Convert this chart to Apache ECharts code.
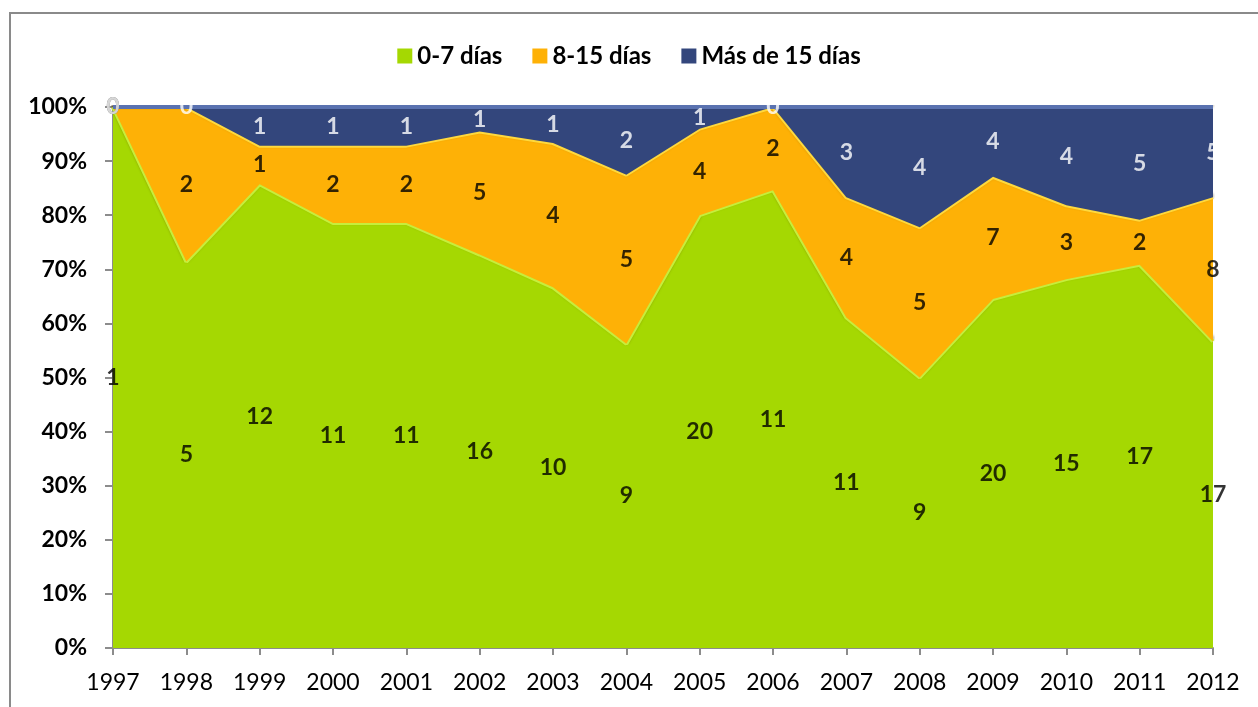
<!DOCTYPE html>
<html>
<head>
<meta charset="utf-8">
<script src="https://cdn.jsdelivr.net/npm/echarts@6/dist/echarts.min.js"></script>
<style>
  html, body { margin: 0; padding: 0; background: #fff; }
  #chart { width: 1258px; height: 707px; }
</style>
</head>
<body>
<div id="chart"></div>
<script>
// datos: número de casos por año y por tramo de días
const years = ['1997', '1998', '1999', '2000', '2001', '2002', '2003', '2004', '2005', '2006', '2007', '2008', '2009', '2010', '2011', '2012'];
const dias0a7 = [1, 5, 12, 11, 11, 16, 10, 9, 20, 11, 11, 9, 20, 15, 17, 17];
const dias8a15 = [0, 2, 1, 2, 2, 5, 4, 5, 4, 2, 4, 5, 7, 3, 2, 8];
const mas15 = [0, 0, 1, 1, 1, 1, 1, 2, 1, 0, 3, 4, 4, 4, 5, 5];
const seriesNames = ['0-7 días', '8-15 días', 'Más de 15 días'];

const font = 'Lato, "Open Sans", sans-serif';
const raw = [dias0a7, dias8a15, mas15];
const totals = years.map((y, i) => dias0a7[i] + dias8a15[i] + mas15[i]);
const pct = raw.map(arr => arr.map((v, i) => v / totals[i] * 100));

const colors = ['#a5d802', '#feb106', '#33467c'];
const edges = ['#c6ee3c', '#ffd93d', '#5a72b0'];
const labelColors = ['#000', '#000', '#fff'];

// label positions = middle of each band
function midPoints(k) {
  return years.map((y, i) => {
    let base = 0;
    for (let j = 0; j < k; j++) base += pct[j][i];
    return [i, base + pct[k][i] / 2];
  });
}

const series = [];
raw.forEach((arr, k) => {
  series.push({
    name: seriesNames[k],
    type: 'line',
    stack: 'total',
    data: pct[k],
    symbol: 'none',
    z: 2 + k,
    lineStyle: { color: edges[k], width: 4, shadowColor: 'rgba(70,45,0,0.6)', shadowBlur: 3, shadowOffsetY: -2 },
    itemStyle: { color: colors[k] },
    areaStyle: { color: colors[k], opacity: 1 }
  });
});
raw.forEach((arr, k) => {
  series.push({
    name: 'lbl' + k,
    type: 'scatter',
    data: midPoints(k),
    symbolSize: 0,
    z: 10 + k,
    silent: true,
    label: {
      show: true,
      position: 'inside',
      formatter: p => String(arr[p.dataIndex]),
      color: labelColors[k],
      fontFamily: font,
      fontWeight: 'bold',
      fontSize: 23
    }
  });
});

const chart = echarts.init(document.getElementById('chart'));
chart.setOption({
  animation: false,
  backgroundColor: '#fff',
  graphic: [{
    type: 'rect',
    shape: { x: 10, y: 13, width: 1400, height: 900 },
    style: { fill: 'none', stroke: '#8a8a8a', lineWidth: 2 },
    silent: true
  }],
  legend: {
    data: seriesNames.map((n, k) => ({ name: n, itemStyle: { color: colors[k] } })),
    top: 39,
    left: 'center',
    icon: 'rect',
    itemWidth: 15,
    itemHeight: 15,
    itemGap: 30,
    itemTextGap: 4,
    textStyle: { fontFamily: font, fontWeight: 'bold', fontSize: 24, color: '#000' }
  },
  grid: { left: 113, right: 45, top: 107, bottom: 59 },
  xAxis: {
    type: 'category',
    data: years,
    boundaryGap: false,
    axisLine: { lineStyle: { color: '#8c8c8c', width: 2 } },
    axisTick: { show: true, length: 7, lineStyle: { color: '#8c8c8c', width: 2 } },
    axisLabel: { fontFamily: font, fontSize: 23, color: '#000', margin: 23 }
  },
  yAxis: {
    type: 'value',
    min: 0,
    max: 100,
    interval: 10,
    axisLine: { show: true, lineStyle: { color: '#8c8c8c', width: 2 } },
    axisTick: { show: true, length: 8, lineStyle: { color: '#8c8c8c', width: 2 } },
    splitLine: { show: false },
    axisLabel: { formatter: '{value}%', fontFamily: font, fontWeight: 'bold', fontSize: 23, color: '#000', margin: 26 }
  },
  series: series
});
</script>
</body>
</html>
